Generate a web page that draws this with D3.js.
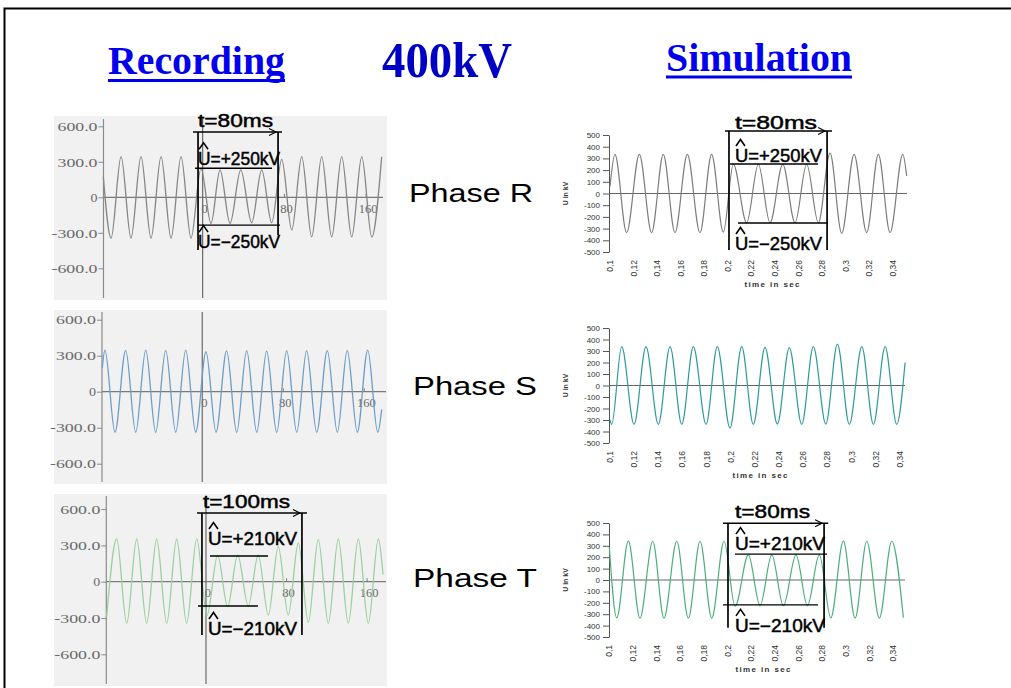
<!DOCTYPE html>
<html><head><meta charset="utf-8">
<script src="https://cdn.jsdelivr.net/npm/d3@7"></script>
<style>body{margin:0;background:#fff}svg{display:block}</style>
</head><body>
<svg id="c" width="1011" height="688"></svg>
<script>
// ---------- DATA ----------
const titles = ["Recording", "400kV", "Simulation"];
const phaseNames = ["Phase R", "Phase S", "Phase T"];

// Recording (left): time in ms, voltage in kV – successive extrema of the wave
const recR_t = [-97.2,-89.6,-79.8,-70.1,-60.3,-50.5,-40.7,-30.9,-21.1,-11.4,-1.6,8.2,17.0,26.8,37.3,48.0,57.8,67.6,77.4,87.2,97.0,106.7,116.5,126.3,136.1,145.9,155.7,165.5,175.2];
const recR_v = [175,-345,343,-345,343,-345,343,-345,343,-345,245,-220,232,-220,232,-215,232,-215,321,-276,343,-335,343,-335,343,-335,343,-335,343];
const recS_t = [-98.7,-96.1,-86.2,-75.6,-65.7,-55.8,-46.0,-36.1,-26.2,-16.3,-6.5,3.7,13.6,24.1,34.0,43.9,53.8,63.6,73.5,83.4,93.3,103.1,113.0,123.5,133.4,143.2,153.1,163.4,173.3,177.2];
const recS_v = [200,347,-338,345,-338,347,-338,345,-338,347,-338,333,-338,340,-338,342,-338,340,-338,342,-338,342,-338,342,-338,345,-338,347,-338,-150];
const recT_t = [-98.6,-88.7,-78.7,-68.8,-58.9,-49.0,-39.0,-29.1,-19.2,-9.2,1.0,11.6,21.5,31.5,42.0,51.9,61.9,71.8,81.7,91.7,101.6,111.5,121.5,131.4,141.3,151.3,161.2,171.2,175.8];
const recT_v = [-290,353,-344,353,-344,353,-344,353,-344,353,-280,220,-206,220,-200,220,-275,290,-275,320,-335,350,-344,353,-344,353,-344,353,60];

// Simulation (right): time in s, voltage in kV
const simR_t = [0.1,0.1042,0.1141,0.1249,0.1353,0.1452,0.1551,0.1656,0.1763,0.1862,0.1961,0.2046,0.2159,0.2258,0.2357,0.2465,0.2569,0.2668,0.2767,0.2866,0.2965,0.3070,0.3177,0.3276,0.3375,0.3483,0.3516];
const simR_v = [60,335,-335,335,-335,335,-335,335,-335,335,-330,250,-250,250,-250,250,-250,250,-250,345,-340,335,-335,335,-335,335,150];
const simS_t = [0.1,0.1014,0.1097,0.1199,0.1298,0.1400,0.1497,0.1594,0.1690,0.1795,0.1888,0.1993,0.2090,0.2186,0.2283,0.2385,0.2484,0.2587,0.2683,0.2786,0.2882,0.2981,0.3084,0.3180,0.3277,0.3373,0.3442];
const simS_v = [-300,-338,338,-338,338,-338,338,-338,338,-338,338,-370,338,-338,332,-335,330,-338,338,-335,360,-338,338,-338,338,-338,200];
const simT_t = [0.1,0.1063,0.1161,0.1259,0.1367,0.1462,0.1570,0.1668,0.1767,0.1866,0.1970,0.2063,0.2175,0.2274,0.2373,0.2471,0.2578,0.2674,0.2775,0.2872,0.2978,0.3077,0.3176,0.3282,0.3387,0.3485];
const simT_v = [290,-332,343,-335,340,-335,340,-335,340,-335,340,-230,220,-225,220,-225,220,-225,220,-332,343,-335,340,-335,340,-330];

// Axis ticks
const recTicksY = [600, 300, 0, -300, -600];
const recTickLabelsY = ["600.0", "300.0", "0", "-300.0", "-600.0"];
const recTicksX = [0, 80, 160];
const recTickLabelsX = ["0", "80", "160"];
const simTicksY = [500, 400, 300, 200, 100, 0, -100, -200, -300, -400, -500];
const simTicksX = [0.1,0.12,0.14,0.16,0.18,0.2,0.22,0.24,0.26,0.28,0.3,0.32,0.34];
const simTickLabelsX = ["0,1","0,12","0,14","0,16","0,18","0,2","0,22","0,24","0,26","0,28","0,3","0,32","0,34"];
const simAxisTitles = ["time in sec", "U in kV"];

// Annotations: box [t0,t1], arrow [t0,t1], [top, bottomLeft, bottomRight], hi/lo [value, t0, t1]
const annRecR_box = [-4.5, 73.8], annRecR_arrow = [-9.4, 77.7], annRecR_v = [552, -445, -320];
const annRecR_hi = [245, -7.4, 67.9], annRecR_lo = [-235, -4.5, 75.7];
const annRecR_text = ["t=80ms", "U=+250kV", "U=\u2212250kV"];
const annSimR_box = [0.2009, 0.2841], annSimR_arrow = [0.1975, 0.2883], annSimR_v = [534, -483, -483];
const annSimR_hi = [252, 0.2018, 0.2764], annSimR_lo = [-252, 0.2086, 0.2849];
const annSimR_text = ["t=80ms", "U=+250kV", "U=\u2212250kV"];
const annRecT_box = [-4.0, 95.3], annRecT_arrow = [-8.9, 100.3], annRecT_v = [568, -440, -440];
const annRecT_hi = [212, 4.0, 61.6], annRecT_lo = [-201, -7.9, 51.6];
const annRecT_text = ["t=100ms", "U=+210kV", "U=\u2212210kV"];
const annSimT_box = [0.2003, 0.2815], annSimT_arrow = [0.1961, 0.2850], annSimT_v = [498, -419, -419];
const annSimT_hi = [227, 0.2062, 0.2840], annSimT_lo = [-218, 0.1961, 0.2764];
const annSimT_text = ["t=80ms", "U=+210kV", "U=\u2212210kV"];

// ---------- DRAWING ----------
const svg = d3.select("#c");
const SANS = "Liberation Sans, Arial, Helvetica, sans-serif";
const SERIF = "Liberation Serif, Times New Roman, serif";

// slide frame
svg.append("path").attr("d", "M4.5,688 V8.5 H1011").attr("fill", "none").attr("stroke", "#000").attr("stroke-width", 2);

// titles
const titleLay = [
  {x:108, y:74, size:40, w:177, fill:"#0000ee", ul:[79, 3]},
  {x:382, y:77, size:50, w:130, fill:"#0000c4", ul:null},
  {x:666, y:71, size:40, w:186, fill:"#0000ee", ul:[75.5, 3]}
];
titles.forEach((t, i) => {
  const L = titleLay[i];
  svg.append("text").text(t).attr("x", L.x).attr("y", L.y)
    .attr("font-family", SERIF).attr("font-weight", "bold").attr("font-size", L.size)
    .attr("fill", L.fill).attr("textLength", L.w).attr("lengthAdjust", "spacingAndGlyphs");
  if (L.ul) svg.append("rect").attr("x", L.x).attr("y", L.ul[0]).attr("width", L.w).attr("height", L.ul[1]).attr("fill", "#0000f0");
});

// phase labels
const phaseLay = [{x:409, y:202}, {x:413, y:395}, {x:413, y:587}];
phaseNames.forEach((p, i) => {
  svg.append("text").text(p).attr("x", phaseLay[i].x).attr("y", phaseLay[i].y)
    .attr("font-family", SANS).attr("font-size", 25).attr("fill", "#000")
    .attr("textLength", 124).attr("lengthAdjust", "spacingAndGlyphs");
});

const waveLine = (xs, ys) => d3.line().x(d => xs(d[0])).y(d => ys(d[1])).curve(d3.curveMonotoneX);
const zipTV = (t, v) => t.map((d, i) => [d, v[i]]);

function drawAnn(xs, ys, box, arrow, vv, hi, lo, text, lay) {
  const g = svg.append("g").attr("stroke", "#000").attr("fill", "none");
  const X0 = xs(box[0]), X1 = xs(box[1]), Y = ys(vv[0]);
  g.append("line").attr("x1", X0).attr("x2", X0).attr("y1", Y).attr("y2", ys(vv[1])).attr("stroke-width", 1.7);
  g.append("line").attr("x1", X1).attr("x2", X1).attr("y1", Y).attr("y2", ys(vv[2])).attr("stroke-width", 1.7);
  g.append("line").attr("x1", xs(arrow[0])).attr("x2", xs(arrow[1])).attr("y1", Y).attr("y2", Y).attr("stroke-width", 1.4);
  g.append("path").attr("d", `M${X1-9},${Y-3.5} L${X1-2},${Y} L${X1-9},${Y+3.5}`).attr("stroke-width", 1.1);
  g.append("line").attr("x1", xs(hi[1])).attr("x2", xs(hi[2])).attr("y1", ys(hi[0])).attr("y2", ys(hi[0])).attr("stroke-width", 1.4);
  g.append("line").attr("x1", xs(lo[1])).attr("x2", xs(lo[2])).attr("y1", ys(lo[0])).attr("y2", ys(lo[0])).attr("stroke-width", 1.4);
  const T = [
    {x: X0 + lay.t[0], y: Y + lay.t[1], w: lay.t[2], hat:false},
    {x: X0 + lay.h[0], y: ys(hi[0]) + lay.h[1], w: lay.h[2], hat:true},
    {x: X0 + lay.l[0], y: ys(lo[0]) + lay.l[1], w: lay.l[2], hat:true}
  ];
  T.forEach((p, i) => {
    svg.append("text").text(text[i]).attr("x", p.x).attr("y", p.y)
      .attr("font-family", SANS).attr("font-size", 17.5).attr("fill", "#000")
      .attr("stroke", "#000").attr("stroke-width", 0.45)
      .attr("textLength", p.w).attr("lengthAdjust", "spacingAndGlyphs");
    if (p.hat) svg.append("path").attr("d", `M${p.x+1},${p.y-16} L${p.x+5.5},${p.y-22.5} L${p.x+10},${p.y-16}`)
      .attr("fill", "none").attr("stroke", "#000").attr("stroke-width", 1.6);
  });
}

// ----- Recording panels -----
const recLay = [
  {t:recR_t, v:recR_v, xd:[-97,176], xr:[103.5,382.5], yr:[268.3,126.3], axisY:[119,298], bg:[54,116,333,184], zeroEnd:383, color:"#858585"},
  {t:recS_t, v:recS_v, xd:[-99,177.5], xr:[102,382], yr:[463.7,319.7], axisY:[312,482], bg:[54,310,333,174], zeroEnd:386, color:"#6d9cc6"},
  {t:recT_t, v:recT_v, xd:[-99,176], xr:[106.3,383.2], yr:[654.3,509.1], axisY:[496,684], bg:[54,494,333,192], zeroEnd:386, color:"#9dcfa2"}
];
const recScales = recLay.map(L => {
  const xs = d3.scaleLinear().domain(L.xd).range(L.xr);
  const ys = d3.scaleLinear().domain([-600, 600]).range(L.yr);
  const g = svg.append("g");
  g.append("rect").attr("x", L.bg[0]).attr("y", L.bg[1]).attr("width", L.bg[2]).attr("height", L.bg[3]).attr("fill", "#f1f1f1");
  g.append("line").attr("x1", L.xr[0]).attr("x2", L.zeroEnd).attr("y1", ys(0)).attr("y2", ys(0)).attr("stroke", "#7a7a7a").attr("stroke-width", 1.2);
  g.append("line").attr("x1", L.xr[0]).attr("x2", L.xr[0]).attr("y1", L.axisY[0]).attr("y2", L.axisY[1]).attr("stroke", "#8a8a8a").attr("stroke-width", 1.2);
  g.append("line").attr("x1", xs(0)).attr("x2", xs(0)).attr("y1", L.axisY[0]).attr("y2", L.axisY[1]).attr("stroke", "#6a6a6a").attr("stroke-width", 1.2);
  const ax = g.append("g").attr("transform", `translate(${L.xr[0]},0)`)
    .call(d3.axisLeft(ys).tickValues(recTicksY).tickFormat((d, i) => recTickLabelsY[i]).tickSize(5).tickPadding(1).tickSizeOuter(0));
  ax.select(".domain").remove();
  ax.selectAll("line").attr("stroke", "#8a8a8a");
  ax.selectAll("text").attr("font-family", SERIF).attr("font-size", 12.5).attr("fill", "#6a6a6a").attr("dy", "0.34em")
    .attr("textLength", (d, i) => recTickLabelsY[i].length === 1 ? 7 : (recTickLabelsY[i].length === 5 ? 40 : 46))
    .attr("lengthAdjust", "spacingAndGlyphs");
  recTicksX.forEach((t, i) => {
    if (t !== 0) g.append("line").attr("x1", xs(t)).attr("x2", xs(t)).attr("y1", ys(0) - 3.5).attr("y2", ys(0)).attr("stroke", "#7a7a7a");
    g.append("text").text(recTickLabelsX[i]).attr("x", xs(t) + 2).attr("y", ys(0) + 15.5)
      .attr("text-anchor", "middle").attr("font-family", SERIF).attr("font-size", 12.5).attr("fill", "#6a6a6a");
  });
  g.append("path").datum(zipTV(L.t, L.v)).attr("d", waveLine(xs, ys))
    .attr("fill", "none").attr("stroke", L.color).attr("stroke-width", 1.3);
  return {xs, ys};
});

// ----- Simulation panels -----
const simLay = [
  {t:simR_t, v:simR_v, xr:[610,893], yr:[252,135], zeroEnd:907, color:"#7c7c7c", tx:772},
  {t:simS_t, v:simS_v, xr:[610,900], yr:[443,328], zeroEnd:905, color:"#2e9a9a", tx:760},
  {t:simT_t, v:simT_v, xr:[609.3,893.3], yr:[637,523], zeroEnd:905, color:"#4dad7d", tx:763}
];
const simScales = simLay.map(L => {
  const xs = d3.scaleLinear().domain([0.1, 0.34]).range(L.xr);
  const ys = d3.scaleLinear().domain([-500, 500]).range(L.yr);
  const g = svg.append("g");
  const ax = g.append("g").attr("transform", "translate(609,0)")
    .call(d3.axisLeft(ys).tickValues(simTicksY).tickFormat(d => (d < 0 ? "-" + Math.abs(d) : String(d))).tickSize(6).tickPadding(3).tickSizeOuter(0));
  ax.select(".domain").attr("stroke", "#555");
  ax.selectAll("line").attr("stroke", "#555");
  ax.selectAll("text").attr("font-family", SANS).attr("font-size", 8).attr("fill", "#333");
  g.append("line").attr("x1", 609).attr("x2", L.zeroEnd).attr("y1", ys(0)).attr("y2", ys(0)).attr("stroke", "#666").attr("stroke-width", 1.1);
  simTicksX.forEach((t, i) => {
    g.append("text").text(simTickLabelsX[i])
      .attr("transform", `translate(${xs(t)},${L.yr[0] + 8}) rotate(-90)`)
      .attr("text-anchor", "end").attr("dy", "0.35em")
      .attr("font-family", SANS).attr("font-size", 8.5).attr("fill", "#333");
  });
  g.append("text").text(simAxisTitles[0]).attr("x", L.tx).attr("y", L.yr[0] + 35)
    .attr("text-anchor", "middle").attr("font-family", SANS).attr("font-weight", "bold").attr("font-size", 8).attr("fill", "#333")
    .attr("textLength", 55).attr("lengthAdjust", "spacing");
  g.append("text").text(simAxisTitles[1])
    .attr("transform", `translate(568,${ys(0)}) rotate(-90)`).attr("text-anchor", "middle")
    .attr("font-family", SANS).attr("font-weight", "bold").attr("font-size", 7).attr("fill", "#333");
  g.append("path").datum(zipTV(L.t, L.v)).attr("d", waveLine(xs, ys))
    .attr("fill", "none").attr("stroke", L.color).attr("stroke-width", 1.2);
  return {xs, ys};
});

// ----- annotations -----
drawAnn(recScales[0].xs, recScales[0].ys, annRecR_box, annRecR_arrow, annRecR_v, annRecR_hi, annRecR_lo, annRecR_text,
  {t:[0,-5,75], h:[0,-3,82], l:[0,23,82]});
drawAnn(simScales[0].xs, simScales[0].ys, annSimR_box, annSimR_arrow, annSimR_v, annSimR_hi, annSimR_lo, annSimR_text,
  {t:[6,-2,82], h:[6,-2,87], l:[6,27,87]});
drawAnn(recScales[2].xs, recScales[2].ys, annRecT_box, annRecT_arrow, annRecT_v, annRecT_hi, annRecT_lo, annRecT_text,
  {t:[1,-5,87], h:[6,-11,89], l:[6,29,89]});
drawAnn(simScales[2].xs, simScales[2].ys, annSimT_box, annSimT_arrow, annSimT_v, annSimT_hi, annSimT_lo, annSimT_text,
  {t:[7,-5,75], h:[7,-4,90], l:[7,27,90]});
</script>
</body></html>
